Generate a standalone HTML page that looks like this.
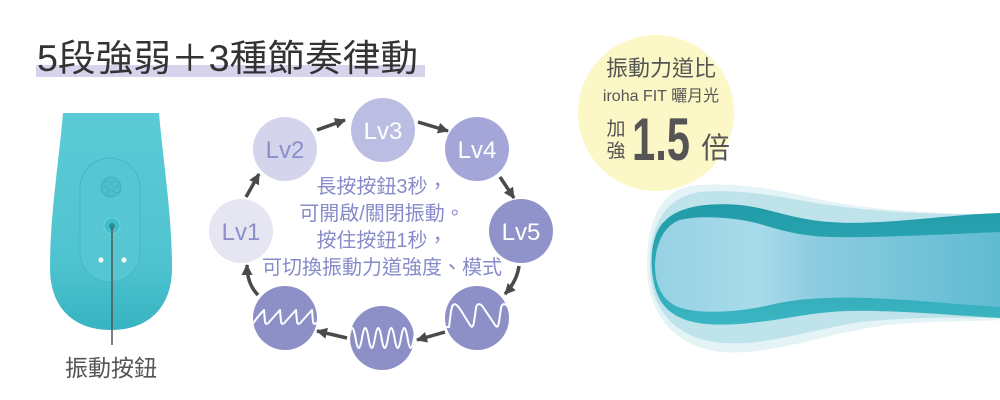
<!DOCTYPE html>
<html><head><meta charset="utf-8">
<style>
html,body{margin:0;padding:0;background:#fff;}
body{width:1000px;height:400px;overflow:hidden;position:relative;}
svg{position:absolute;left:0;top:0;}
</style></head>
<body>
<svg width="1000" height="400" viewBox="0 0 1000 400" xmlns="http://www.w3.org/2000/svg">
<defs>
  <marker id="ah" markerWidth="12" markerHeight="12" refX="10" refY="6" orient="auto" markerUnits="userSpaceOnUse">
    <path d="M0,0.5 L11,6 L0,11.5 Z" fill="#4a4a4a"/>
  </marker>
  <linearGradient id="dev" x1="0" y1="0" x2="0" y2="1">
    <stop offset="0" stop-color="#5ccbd6"/>
    <stop offset="0.7" stop-color="#4ec3cf"/>
    <stop offset="1" stop-color="#37b3c1"/>
  </linearGradient>
  <linearGradient id="face" x1="0" y1="0" x2="1" y2="0">
    <stop offset="0" stop-color="#96d2e4"/>
    <stop offset="0.3" stop-color="#a8dbea"/>
    <stop offset="0.45" stop-color="#8ecde1"/>
    <stop offset="1" stop-color="#5fbbd1"/>
  </linearGradient>
  <linearGradient id="rim" x1="0" y1="0" x2="0" y2="1">
    <stop offset="0" stop-color="#219ba7"/>
    <stop offset="1" stop-color="#3cb5c3"/>
  </linearGradient>
  <clipPath id="cL"><circle cx="285" cy="318" r="32"/></clipPath>
  <clipPath id="cM"><circle cx="382" cy="338" r="32"/></clipPath>
  <clipPath id="cR"><circle cx="477" cy="318" r="32"/></clipPath>
</defs>

<!-- Title -->
<rect x="36" y="65" width="389" height="12" fill="#d6d3ec"/>
<text x="37" y="71" font-family="Liberation Sans, Noto Sans CJK TC, sans-serif" font-size="37" fill="#333" textLength="381" lengthAdjust="spacingAndGlyphs">5段強弱＋3種節奏律動</text>

<!-- Left device -->
<path d="M63 113 L159 113 C163 160 172 215 172 268 C172 308 148 330 111 330 C74 330 50 308 50 268 C50 215 59 160 63 113 Z" fill="url(#dev)"/>
<rect x="80" y="158" width="60" height="124" rx="30" fill="#56c7d2" stroke="#44b8c5" stroke-width="1"/>
<circle cx="111" cy="187" r="10" fill="#4fc1cd" stroke="#3fb0bd" stroke-width="1"/>
<circle cx="107" cy="184" r="3.2" fill="none" stroke="#3fb0bd" stroke-width="0.8"/>
<circle cx="115" cy="184" r="3.2" fill="none" stroke="#3fb0bd" stroke-width="0.8"/>
<circle cx="105" cy="190" r="3.2" fill="none" stroke="#3fb0bd" stroke-width="0.8"/>
<circle cx="117" cy="190" r="3.2" fill="none" stroke="#3fb0bd" stroke-width="0.8"/>
<circle cx="111" cy="193" r="3.2" fill="none" stroke="#3fb0bd" stroke-width="0.8"/>
<circle cx="112" cy="226" r="8" fill="#40bdca" stroke="#6fd3dc" stroke-width="1"/>
<circle cx="112" cy="226" r="3" fill="#2b8e99"/>
<circle cx="101" cy="260" r="2.6" fill="#f4f4f4"/>
<circle cx="124" cy="260" r="2.6" fill="#f4f4f4"/>
<line x1="112" y1="227" x2="112" y2="345" stroke="#555" stroke-width="1.5"/>
<text x="111" y="376" text-anchor="middle" font-family="Liberation Sans, Noto Sans CJK TC, sans-serif" font-size="23" fill="#555">振動按鈕</text>

<!-- Circles -->
<circle cx="241" cy="231" r="32" fill="#e6e6f3"/>
<circle cx="285" cy="149" r="32" fill="#d4d5ed"/>
<circle cx="383" cy="130" r="32" fill="#bbbde2"/>
<circle cx="477" cy="149" r="32" fill="#a3a6d7"/>
<circle cx="521" cy="231" r="32" fill="#8f93ca"/>
<circle cx="477" cy="318" r="32" fill="#8d90c7"/>
<circle cx="382" cy="338" r="32" fill="#8d90c7"/>
<circle cx="285" cy="318" r="32" fill="#8d90c7"/>

<g font-family="Liberation Sans, sans-serif" font-size="24" text-anchor="middle">
  <text x="241" y="240" fill="#8a8ecb">Lv1</text>
  <text x="285" y="158" fill="#8a8ecb">Lv2</text>
  <text x="383" y="139" fill="#ffffff">Lv3</text>
  <text x="477" y="158" fill="#ffffff">Lv4</text>
  <text x="521" y="240" fill="#ffffff">Lv5</text>
</g>

<!-- Waves -->
<g fill="none" stroke="#ffffff" stroke-width="2" stroke-linejoin="round" stroke-linecap="round">
  <path clip-path="url(#cL)" d="M251 326 C255 321 258 316 264 310 L265 322 C266 325 268 324 270 321 L280 310 L281 322 C282 325 284 324 286 321 L296 310 L297 322 C298 325 300 324 302 321 L312 310 L313 322 C314 325 316 324 318 321 L326 312"/>
  <path clip-path="url(#cM)" d="M349 338 Q352.25 318 355.5 338 T362 338 T368.5 338 T375 338 T381.5 338 T388 338 T394.5 338 T401 338 T407.5 338 T414 338 T420.5 338"/>
  <path clip-path="url(#cR)" d="M444 327 L449 327 C450.5 316 451 307 453 305 C455 303 457 305 460 309 L470 325 C472 328 473 327 474 322 L476 308 C477 303 480 303 483 307 L495 325 C497 328 498 327 499 322 L501 308 C502 303 505 303 508 307 L513 314"/>
</g>

<!-- Arrows -->
<g stroke="#4a4a4a" stroke-width="3.5" fill="none" marker-end="url(#ah)">
  <line x1="246" y1="197" x2="259" y2="174"/>
  <line x1="317" y1="130" x2="345" y2="120"/>
  <line x1="418" y1="122" x2="448" y2="131"/>
  <line x1="500" y1="177" x2="514" y2="198"/>
  <path d="M519 266 Q517 281 505 294"/>
  <line x1="445" y1="332" x2="417" y2="340"/>
  <line x1="347" y1="338" x2="317" y2="331"/>
  <path d="M258 295 Q247 284 247 265"/>
</g>

<!-- Center text -->
<g font-family="Liberation Sans, Noto Sans CJK TC, sans-serif" font-size="20" fill="#878bc9" text-anchor="middle">
  <text x="382" y="193">長按按鈕3秒，</text>
  <text x="382" y="220">可開啟/關閉振動。</text>
  <text x="382" y="247">按住按鈕1秒，</text>
  <text x="382" y="274">可切換振動力道強度、模式</text>
</g>

<!-- Right spoon -->
<path d="M1000 214 C930 214 860 210 800 195 C760 186 720 182 690 186 C660 192 647 222 647 265 C647 310 670 345 720 352 C770 356 820 335 880 326 C930 320 970 322 1000 320 Z" fill="#e3f3f6"/>
<path d="M1000 214 C930 215 870 212 810 202 C770 194 730 189 700 192 C665 197 650 225 650 265 C650 305 670 335 715 342 C760 348 800 332 860 322 C920 316 970 318 1000 318 Z" fill="#bfe3ea"/>
<path d="M1000 213 C940 215 880 226 830 222 C790 219 770 208 740 205 C700 202 670 208 658 230 C648 250 650 285 662 303 C678 325 710 327 750 323 C790 319 810 312 850 311 C900 310 960 316 1000 318 Z" fill="url(#rim)"/>
<path d="M1000 232 C950 234 880 238 830 237 C800 236 780 230 760 224 C735 217 700 215 680 220 C662 226 655 248 655 266 C655 285 662 300 678 307 C700 315 740 312 770 305 C800 298 830 297 870 298 C920 300 960 305 1000 307 Z" fill="url(#face)"/>

<!-- Yellow badge -->
<circle cx="656" cy="113" r="78" fill="#fcf7c6"/>
<g font-family="Liberation Sans, Noto Sans CJK TC, sans-serif" fill="#555">
  <text x="661" y="76" text-anchor="middle" font-size="22">振動力道比</text>
  <text x="661" y="101" text-anchor="middle" font-size="16">iroha FIT 曬月光</text>
  <text x="616" y="135" text-anchor="middle" font-size="19">加</text>
  <text x="616" y="157" text-anchor="middle" font-size="19">強</text>
  <text x="632" y="160" font-size="60" font-weight="bold" textLength="58" lengthAdjust="spacingAndGlyphs">1.5</text>
  <text x="701" y="158" font-size="29">倍</text>
</g>
</svg>
</body></html>
